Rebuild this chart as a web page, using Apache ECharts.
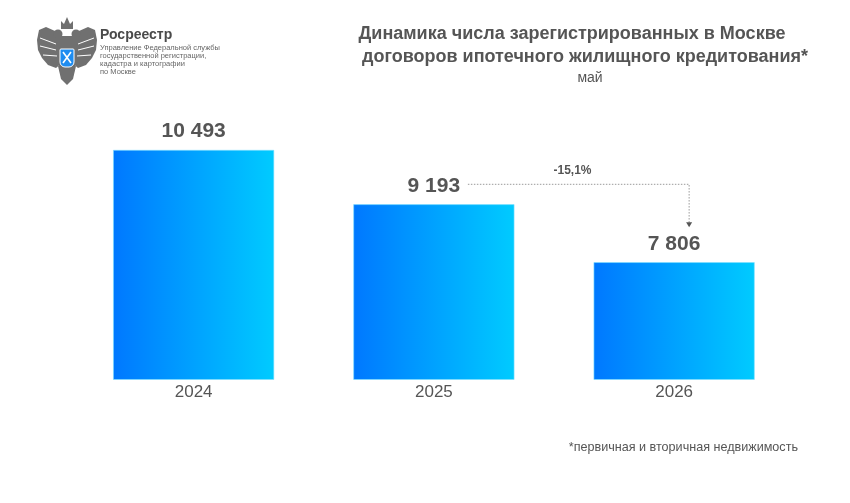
<!DOCTYPE html>
<html>
<head>
<meta charset="utf-8">
<script src="https://cdn.jsdelivr.net/npm/echarts@6/dist/echarts.min.js"></script>
<style>
html,body{margin:0;padding:0;background:#fff;}
#c{width:850px;height:503px;}
</style>
</head>
<body>
<div id="c"></div>
<script>
var categories = ['2024', '2025', '2026'];
var values = [10493, 9193, 7806];
var changeLabel = '-15,1%';
var titleLines = ['Динамика числа зарегистрированных в Москве', 'договоров ипотечного жилищного кредитования*'];
var subtitle = 'май';
var footnote = '*первичная и вторичная недвижимость';
var orgName = 'Росреестр';
var orgLines = ['Управление Федеральной службы', 'государственной регистрации,', 'кадастра и картографии', 'по Москве'];

function fmt(v) { return String(v).replace(/\B(?=(\d{3})+(?!\d))/g, ' '); }

var chart = echarts.init(document.getElementById('c'), null, {renderer: 'canvas'});
var FONT = '"Liberation Sans", Arial, sans-serif';

var grad = new echarts.graphic.LinearGradient(0, 0, 1, 0, [
  {offset: 0, color: '#0078FF'},
  {offset: 1, color: '#00CBFF'}
]);

var G = '#707070';
var logo = [
  // wings
  {type: 'polygon', shape: {points: [[63,40],[55,31],[46,27],[39,30],[37,40],[38,50],[42,58],[48,65],[56,68],[62,63]]}, style: {fill: G}},
  {type: 'polygon', shape: {points: [[71,40],[79,31],[88,27],[95,30],[97,40],[96,50],[92,58],[86,65],[78,68],[72,63]]}, style: {fill: G}},
  // feather gaps
  {type: 'line', shape: {x1: 40, y1: 38, x2: 56, y2: 44}, style: {stroke: '#fff', lineWidth: 1}},
  {type: 'line', shape: {x1: 40, y1: 46, x2: 56, y2: 50}, style: {stroke: '#fff', lineWidth: 1}},
  {type: 'line', shape: {x1: 43, y1: 55, x2: 57, y2: 56}, style: {stroke: '#fff', lineWidth: 1}},
  {type: 'line', shape: {x1: 94, y1: 38, x2: 78, y2: 44}, style: {stroke: '#fff', lineWidth: 1}},
  {type: 'line', shape: {x1: 94, y1: 46, x2: 78, y2: 50}, style: {stroke: '#fff', lineWidth: 1}},
  {type: 'line', shape: {x1: 91, y1: 55, x2: 77, y2: 56}, style: {stroke: '#fff', lineWidth: 1}},
  // heads/necks
  {type: 'circle', shape: {cx: 58, cy: 34, r: 4.5}, style: {fill: G}},
  {type: 'circle', shape: {cx: 76, cy: 34, r: 4.5}, style: {fill: G}},
  // crown
  {type: 'polygon', shape: {points: [[61,29],[61,21],[64,24],[67,17],[70,24],[73,21],[73,29]]}, style: {fill: G}},
  // body
  {type: 'rect', shape: {x: 59, y: 36, width: 16, height: 30}, style: {fill: G}},
  // tail
  {type: 'polygon', shape: {points: [[58,66],[76,66],[73,79],[67,85],[61,79]]}, style: {fill: G}},
  // shield
  {type: 'rect', shape: {x: 60, y: 49, width: 14, height: 18, r: [1,1,5,5]}, style: {fill: '#1E8CF0', stroke: '#ffffff', lineWidth: 1}},
  {type: 'line', shape: {x1: 63, y1: 52, x2: 71, y2: 63}, style: {stroke: '#ffffff', lineWidth: 1.6}},
  {type: 'line', shape: {x1: 71, y1: 52, x2: 63, y2: 63}, style: {stroke: '#ffffff', lineWidth: 1.6}},
  {type: 'text', style: {text: orgName, x: 100, y: 35, textVerticalAlign: 'middle', font: 'bold 14px ' + FONT, fill: '#4a4a4a'}}
];
orgLines.forEach(function (t, i) {
  logo.push({type: 'text', style: {text: t, x: 100, y: 48 + i * 8, textVerticalAlign: 'middle', font: '7.5px ' + FONT, fill: '#666'}});
});

var texts = [
  {type: 'text', style: {text: titleLines[0], x: 572, y: 34, textAlign: 'center', textVerticalAlign: 'middle', font: 'bold 18px ' + FONT, fill: '#555'}},
  {type: 'text', style: {text: titleLines[1], x: 585, y: 57, textAlign: 'center', textVerticalAlign: 'middle', font: 'bold 18px ' + FONT, fill: '#555'}},
  {type: 'text', style: {text: subtitle, x: 590, y: 78, textAlign: 'center', textVerticalAlign: 'middle', font: '14px ' + FONT, fill: '#555'}},
  {type: 'text', style: {text: footnote, x: 798, y: 448, textAlign: 'right', textVerticalAlign: 'middle', font: '12.6px ' + FONT, fill: '#555'}}
];

chart.setOption({
  animation: false,
  backgroundColor: '#ffffff',
  grid: {left: 73.5, right: 55.75, top: 128.8, bottom: 123.5},
  xAxis: {
    type: 'category',
    data: categories,
    axisLine: {show: false},
    axisTick: {show: false},
    axisLabel: {fontSize: 17, color: '#555', fontFamily: FONT, margin: 4}
  },
  yAxis: {type: 'value', min: 5000, max: 11000, show: false, splitLine: {show: false}},
  series: [{
    type: 'bar',
    data: values,
    barWidth: 161,
    itemStyle: {color: grad, borderColor: '#7fe0ff', borderWidth: 0.6},
    label: {
      show: true, position: 'top', distance: 8,
      fontSize: 21, fontWeight: 'bold', color: '#555', fontFamily: FONT,
      formatter: function (p) { return fmt(p.value); }
    }
  }],
  graphic: logo.concat(texts)
});

// annotation between 2025 and 2026 positioned via the chart's own scales
var p1 = chart.convertToPixel({seriesIndex: 0}, [1, values[1]]);
var p2 = chart.convertToPixel({seriesIndex: 0}, [2, values[2]]);
var ly = p1[1] - 20;
var x1 = p1[0] + 34;
var x2 = p2[0] + 15;
var yEnd = p2[1] - 35;
chart.setOption({
  graphic: logo.concat(texts).concat([
    {type: 'polyline', shape: {points: [[x1, ly], [x2, ly], [x2, yEnd - 4]]}, style: {stroke: '#9a9a9a', lineWidth: 1, lineDash: [1.5, 1.5], fill: null}},
    {type: 'polygon', shape: {points: [[x2 - 3, yEnd - 5], [x2 + 3, yEnd - 5], [x2, yEnd]]}, style: {fill: '#555'}},
    {type: 'text', style: {text: changeLabel, x: (x1 + x2) / 2 - 6, y: ly - 14, textAlign: 'center', textVerticalAlign: 'middle', font: 'bold 12px ' + FONT, fill: '#555'}}
  ])
});
</script>
</body>
</html>
